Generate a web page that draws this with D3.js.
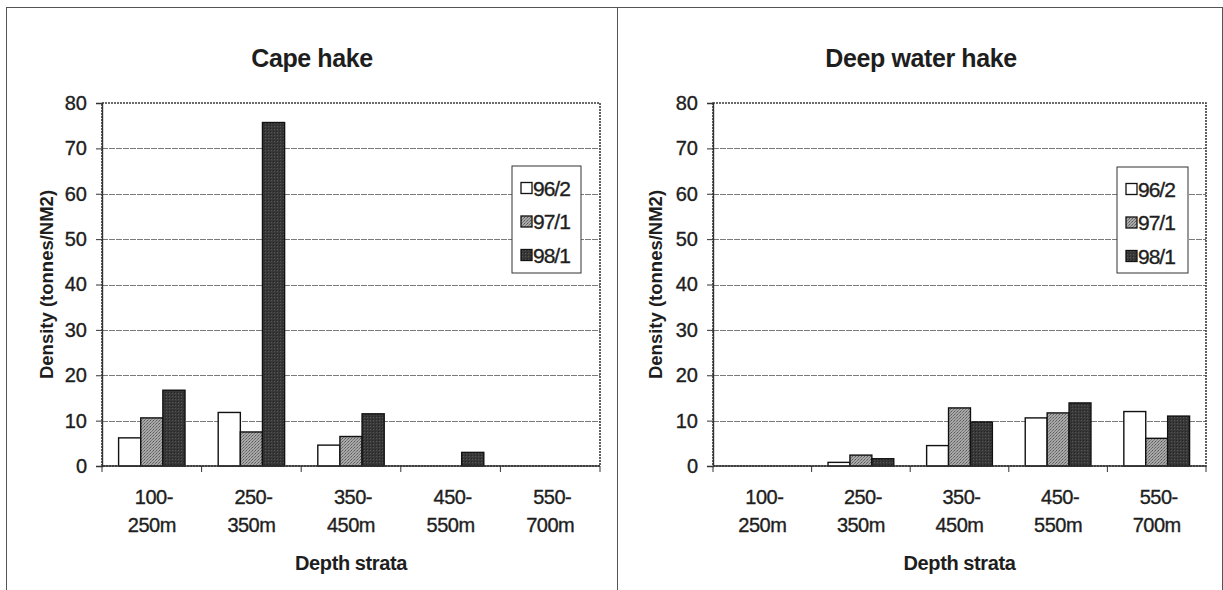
<!DOCTYPE html>
<html>
<head>
<meta charset="utf-8">
<script src="https://cdn.jsdelivr.net/npm/d3@7"></script>
<style>
  body { margin: 0; background: #fff; }
  text { font-family: "Liberation Sans", Arial, sans-serif; fill: #1e1e1e; }
  .scan { stroke: #1e1e1e; stroke-width: 0.35px; }
</style>
</head>
<body>
<svg id="chart" width="1223" height="590"></svg>
<script>
// depth strata (split on the hyphen for the two-line tick labels)
var categories = ["100-250m", "250-350m", "350-450m", "450-550m", "550-700m"];
var series = ["96/2", "97/1", "98/1"];
var yTicks = [0, 10, 20, 30, 40, 50, 60, 70, 80];

// Cape hake, density (tonnes/NM2)
var capeHake962 = [6.2, 11.8, 4.6, 0, 0];
var capeHake971 = [10.6, 7.5, 6.5, 0, 0];
var capeHake981 = [16.7, 75.7, 11.5, 3.0, 0];

// Deep water hake, density (tonnes/NM2)
var deepHake962 = [0, 0.8, 4.5, 10.6, 12.0];
var deepHake971 = [0, 2.4, 12.8, 11.7, 6.1];
var deepHake981 = [0, 1.6, 9.7, 13.9, 11.0];

var svg = d3.select("#chart");

// stipple patterns like the scanned excel fills
var defs = svg.append("defs");
var p1 = defs.append("pattern").attr("id", "fill971")
  .attr("width", 3).attr("height", 3).attr("patternUnits", "userSpaceOnUse");
p1.append("rect").attr("width", 3).attr("height", 3).attr("fill", "#a8a8a8");
p1.append("rect").attr("x", 0).attr("y", 0).attr("width", 1).attr("height", 1).attr("fill", "#5a5a5a");
p1.append("rect").attr("x", 2).attr("y", 1).attr("width", 1).attr("height", 1).attr("fill", "#707070");
p1.append("rect").attr("x", 1).attr("y", 2).attr("width", 1).attr("height", 1).attr("fill", "#7e7e7e");

var p2 = defs.append("pattern").attr("id", "fill981")
  .attr("width", 3).attr("height", 3).attr("patternUnits", "userSpaceOnUse");
p2.append("rect").attr("width", 3).attr("height", 3).attr("fill", "#383838");
p2.append("rect").attr("x", 1).attr("y", 0).attr("width", 1).attr("height", 1).attr("fill", "#555");
p2.append("rect").attr("x", 0).attr("y", 2).attr("width", 1).attr("height", 1).attr("fill", "#242424");

var fills = ["#fff", "url(#fill971)", "url(#fill981)"];

var panels = [
  {title: "Cape hake", data: [capeHake962, capeHake971, capeHake981],
   frame: [6, 617], plot: [102, 600], titleX: 312, yTitleX: 46, legend: [512, 166, 69, 107]},
  {title: "Deep water hake", data: [deepHake962, deepHake971, deepHake981],
   frame: [617, 1222], plot: [713, 1206], titleX: 921, yTitleX: 655, legend: [1117, 167, 71, 106]}
];

var plotTop = 103, plotBottom = 466;

panels.forEach(function (p) {
  // outer chart frame
  svg.append("rect")
    .attr("x", p.frame[0] + 0.5).attr("y", 7.5)
    .attr("width", p.frame[1] - p.frame[0]).attr("height", 600)
    .attr("fill", "none").attr("stroke", "#555").attr("stroke-width", 1);

  var x = d3.scaleBand().domain(categories).range(p.plot);
  var y = d3.scaleLinear().domain([0, 80]).range([plotBottom, plotTop]);
  // gap width 150% -> band = 4.5 bars
  var bw = x.bandwidth() / 4.5;
  var inner = d3.scaleBand().domain(series)
    .range([bw * 0.75, x.bandwidth() - bw * 0.75]);

  // title
  svg.append("text")
    .attr("x", p.titleX).attr("y", 67)
    .attr("text-anchor", "middle")
    .style("font-size", "25px").style("font-weight", "bold")
    .style("letter-spacing", "-0.4px")
    .text(p.title);

  // gridlines
  svg.append("g").selectAll("line")
    .data(yTicks.filter(function (d) { return d > 0 && d < 80; }))
    .enter().append("line")
      .attr("x1", p.plot[0]).attr("x2", p.plot[1])
      .attr("y1", function (d) { return Math.round(y(d)) + 0.5; })
      .attr("y2", function (d) { return Math.round(y(d)) + 0.5; })
      .attr("stroke", "#7a7a7a").attr("stroke-width", 1)
      .attr("stroke-dasharray", "6,1");

  // plot area border (dotted in the scan)
  svg.append("rect")
    .attr("x", p.plot[0]).attr("y", plotTop)
    .attr("width", p.plot[1] - p.plot[0]).attr("height", plotBottom - plotTop)
    .attr("fill", "none").attr("stroke", "#3a3a3a").attr("stroke-width", 1.6)
    .attr("stroke-dasharray", "2,1");

  // bars
  var g = svg.append("g");
  series.forEach(function (s, i) {
    g.selectAll(".bar" + i)
      .data(p.data[i].map(function (v, j) { return {c: categories[j], v: v}; })
              .filter(function (d) { return d.v > 0; }))
      .enter().append("rect")
        .attr("x", function (d) { return x(d.c) + inner(s); })
        .attr("y", function (d) { return y(d.v); })
        .attr("width", inner.bandwidth())
        .attr("height", function (d) { return plotBottom - y(d.v); })
        .attr("fill", fills[i])
        .attr("stroke", "#111").attr("stroke-width", 1.4);
  });

  // y axis
  var yAxis = d3.axisLeft(y).tickValues(yTicks).tickSize(6).tickPadding(9);
  var ya = svg.append("g")
    .attr("transform", "translate(" + p.plot[0] + ",0)")
    .call(yAxis);
  ya.select(".domain").attr("stroke", "#333").attr("stroke-width", 1.4);
  ya.selectAll(".tick line").attr("stroke", "#333");
  ya.selectAll("text").attr("class", "scan")
    .style("font-size", "20px").attr("fill", "#1e1e1e");

  // x axis: ticks on the category boundaries, pointing down
  var xa = svg.append("g");
  xa.append("line")
    .attr("x1", p.plot[0]).attr("x2", p.plot[1])
    .attr("y1", plotBottom).attr("y2", plotBottom)
    .attr("stroke", "#333").attr("stroke-width", 1.6);
  xa.selectAll(".xt")
    .data(categories.concat(["end"]))
    .enter().append("line")
      .attr("x1", function (d, i) { return p.plot[0] + i * x.bandwidth(); })
      .attr("x2", function (d, i) { return p.plot[0] + i * x.bandwidth(); })
      .attr("y1", plotBottom).attr("y2", plotBottom + 6)
      .attr("stroke", "#333");
  var lab = xa.selectAll(".xl")
    .data(categories)
    .enter().append("text")
      .attr("class", "scan")
      .attr("text-anchor", "middle")
      .style("font-size", "20px")
      .style("letter-spacing", "-0.5px");
  lab.append("tspan")
    .attr("x", function (d) { return x(d) + x.bandwidth() / 2 + 2; })
    .attr("y", 504)
    .text(function (d) { return d.split("-")[0] + "-"; });
  lab.append("tspan")
    .attr("x", function (d) { return x(d) + x.bandwidth() / 2; })
    .attr("y", 532)
    .text(function (d) { return d.split("-")[1]; });

  // axis titles
  svg.append("text")
    .attr("x", (p.plot[0] + p.plot[1]) / 2).attr("y", 570)
    .attr("text-anchor", "middle")
    .style("font-size", "20px").style("font-weight", "bold")
    .style("letter-spacing", "-0.4px")
    .text("Depth strata");
  svg.append("text")
    .attr("transform", "translate(" + (p.yTitleX + 7) + "," + ((plotTop + plotBottom) / 2) + ") rotate(-90)")
    .attr("text-anchor", "middle")
    .style("font-size", "18.5px").style("font-weight", "bold")
    .text("Density (tonnes/NM2)");

  // legend
  var L = p.legend;
  var lg = svg.append("g").attr("transform", "translate(" + L[0] + "," + L[1] + ")");
  lg.append("rect")
    .attr("width", L[2]).attr("height", L[3])
    .attr("fill", "#fff").attr("stroke", "#333").attr("stroke-width", 1);
  series.forEach(function (s, i) {
    var cy = 22 + i * 33.5;
    lg.append("rect")
      .attr("x", 9).attr("y", cy - 5.5).attr("width", 11).attr("height", 11)
      .attr("fill", fills[i])
      .attr("stroke", "#111").attr("stroke-width", 1.3);
    lg.append("text")
      .attr("class", "scan")
      .attr("x", 21).attr("y", cy + 7.5)
      .style("font-size", "21px").style("letter-spacing", "-1px")
      .text(s);
  });
});
</script>
</body>
</html>
